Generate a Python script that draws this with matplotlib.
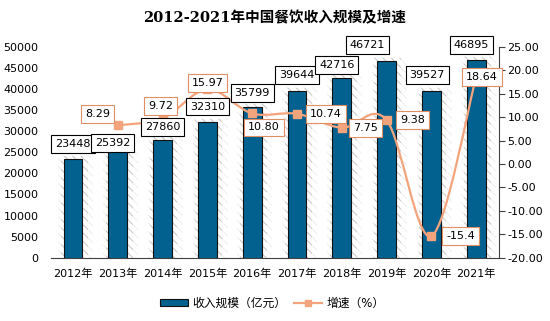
import matplotlib
matplotlib.use("Agg")
import matplotlib.pyplot as plt
import numpy as np
from matplotlib.path import Path
from matplotlib.patches import PathPatch, Patch
from matplotlib.lines import Line2D

plt.rcParams['font.family'] = ['DejaVu Sans', 'Noto Sans CJK SC']
plt.rcParams['hatch.linewidth'] = 0.6

# dati
years = ["2012年", "2013年", "2014年", "2015年", "2016年", "2017年", "2018年", "2019年", "2020年", "2021年"]
revenue = [23448, 25392, 27860, 32310, 35799, 39644, 42716, 46721, 39527, 46895]
growth_years = [1, 2, 3, 4, 5, 6, 7, 8, 9]
growth = [8.29, 9.72, 15.97, 10.80, 10.74, 7.75, 9.38, -15.4, 18.64]
growth_labels = ["8.29", "9.72", "15.97", "10.80", "10.74", "7.75", "9.38", "-15.4", "18.64"]

# spostamenti delle etichette (pixel)
rev_off = [(0, 15), (-5, 8), (0, 13), (0, 15), (0, 14), (0, 15.5), (-5, 13), (-19, 16), (-4, 16), (-5, 15)]
gr_off = [(-20, 11), (-2, 12.5), (0, 6), (12, -14), (29, 0), (24, 0), (26, 0), (29, 0), (6, 0)]

blue = "#02618F"
orange = "#F4A47C"
orange_edge = "#E08E62"

fig = plt.figure(figsize=(5.5, 3.21), dpi=100)
ax = fig.add_axes([0.0927, 0.1972, 0.8146, 0.6564])
ax2 = ax.twinx()

x = np.arange(len(years))

# ombra tratteggiata dietro le barre
ax.bar(x + 0.06, np.array(revenue) + 900, width=0.78, color="none", edgecolor="#ececec",
       hatch="\\\\\\\\", linewidth=0, zorder=1)
ax.bar(x + 0.03, np.array(revenue) + 700, width=0.6, color="none", edgecolor="#c4c4c4",
       hatch="\\\\\\\\", linewidth=0, zorder=1)
bars = ax.bar(x, revenue, width=0.42, color=blue, edgecolor="#111111", linewidth=0.8, zorder=3)

ax.set_xlim(-0.49, 9.51)
ax.set_ylim(0, 50000)
ax.set_yticks(range(0, 50001, 5000))
ax.set_xticks(x)
ax.set_xticklabels(years, fontsize=8)
ax.tick_params(axis="x", length=0, pad=8)
ax.tick_params(axis="y", length=0, labelsize=8, pad=9)
for s in ["top", "right", "left"]:
    ax.spines[s].set_visible(False)
ax.spines["bottom"].set_color("#404040")
ax.spines["bottom"].set_linewidth(0.8)

# linea smussata (bezier) per il tasso di crescita
gx = np.array(growth_years, dtype=float)
gy = np.array(growth, dtype=float)
verts = [(gx[0], gy[0])]
codes = [Path.MOVETO]
n = len(gx)
for i in range(n - 1):
    p0 = (gx[max(i - 1, 0)], gy[max(i - 1, 0)])
    p1 = (gx[i], gy[i])
    p2 = (gx[i + 1], gy[i + 1])
    p3 = (gx[min(i + 2, n - 1)], gy[min(i + 2, n - 1)])
    c1 = (p1[0] + (p2[0] - p0[0]) / 6, p1[1] + (p2[1] - p0[1]) / 6)
    c2 = (p2[0] - (p3[0] - p1[0]) / 6, p2[1] - (p3[1] - p1[1]) / 6)
    verts += [c1, c2, p2]
    codes += [Path.CURVE4] * 3
ax2.add_patch(PathPatch(Path(verts, codes), facecolor="none", edgecolor=orange, linewidth=1.6, zorder=4))
ax2.plot(gx, gy, linestyle="none", marker="s", markersize=5.5, color=orange, zorder=5)

ax2.set_ylim(-20, 25)
ax2.set_yticks(range(-20, 26, 5))
ax2.set_yticklabels(["%.2f" % v for v in range(-20, 26, 5)])
ax2.tick_params(axis="y", length=4, labelsize=8, pad=2, color="#404040")
for s in ["top", "left", "bottom"]:
    ax2.spines[s].set_visible(False)
ax2.spines["right"].set_color("#404040")
ax2.spines["right"].set_linewidth(0.8)

# etichette dei valori
for i, v in enumerate(revenue):
    ax2.annotate(str(v), xy=(x[i], v), xycoords=ax.transData,
                 xytext=(rev_off[i][0] * 0.72, rev_off[i][1] * 0.72), textcoords="offset points",
                 ha="center", va="center", fontsize=8, zorder=10,
                 bbox=dict(boxstyle="square,pad=0.35", facecolor="white", edgecolor="black", linewidth=0.8))
for i, v in enumerate(growth):
    ax2.annotate(growth_labels[i], xy=(gx[i], v),
                 xytext=(gr_off[i][0] * 0.72, gr_off[i][1] * 0.72), textcoords="offset points",
                 ha="center", va="center", fontsize=8, zorder=11,
                 bbox=dict(boxstyle="square,pad=0.35", facecolor="white", edgecolor=orange_edge, linewidth=0.8))

fig.text(0.5, 0.944, "2012-2021年中国餐饮收入规模及增速", ha="center", va="center",
         fontsize=10.5, fontweight="bold", family=["DejaVu Serif", "Noto Sans CJK SC"])

handles = [Patch(facecolor=blue, edgecolor="#111111", linewidth=0.8),
           Line2D([0], [0], color=orange, linewidth=1.6, marker="s", markersize=5)]
fig.legend(handles, ["收入规模（亿元）", "增速（%）"], loc="center", bbox_to_anchor=(0.495, 0.056),
           ncol=2, frameon=False, fontsize=8.5, handlelength=2.4, handleheight=0.5,
           handletextpad=0.4, columnspacing=0.6)

fig.savefig("out.png", dpi=100)
